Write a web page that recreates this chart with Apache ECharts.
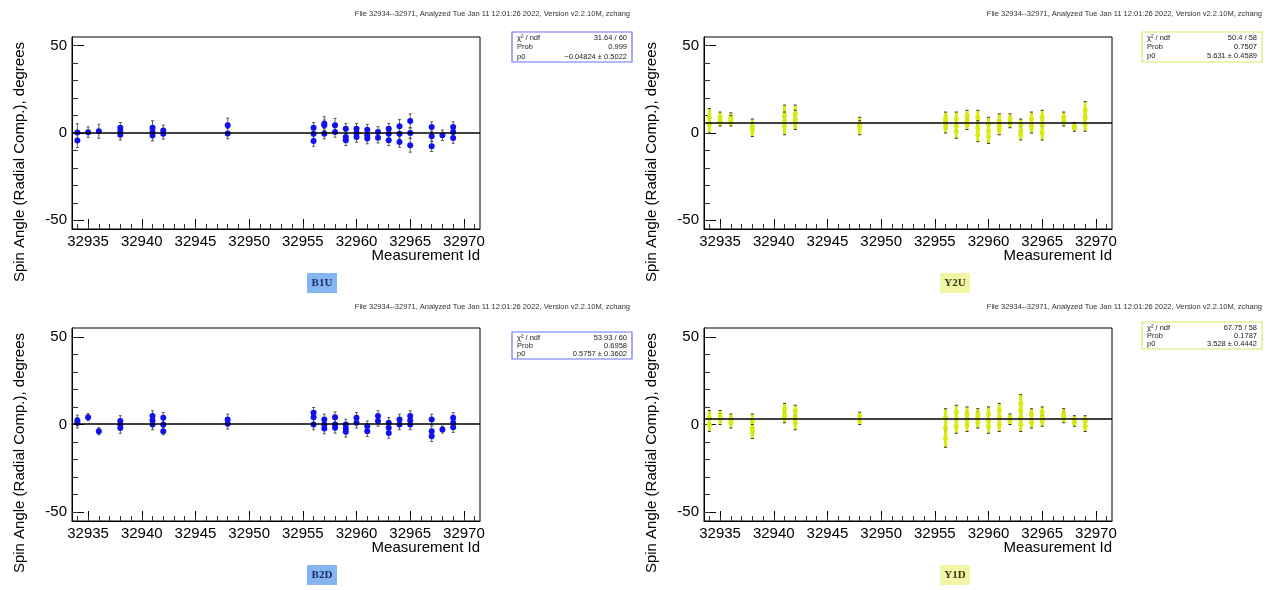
<!DOCTYPE html>
<html><head><meta charset="utf-8">
<script src="https://cdn.jsdelivr.net/npm/echarts@6/dist/echarts.min.js"></script>
<style>html,body{margin:0;padding:0;background:#fff}#c{width:1269px;height:590px}</style>
</head><body><div id="c"></div>
<script>
// ---------- data ----------
const xTickLabels = [32935, 32940, 32945, 32950, 32955, 32960, 32965, 32970];
const yTickLabels = [-50, 0, 50];
const panelNames = ['B1U', 'Y2U', 'B2D', 'Y1D'];

const b1uRun = [32934,32934,32935,32936,32938,32938,32938,32941,32941,32941,32942,32942,32948,32948,
  32956,32956,32956,32957,32957,32957,32958,32958,32959,32959,32959,32960,32960,32960,32961,32961,32961,
  32962,32962,32963,32963,32963,32964,32964,32964,32965,32965,32965,32967,32967,32967,32968,32969,32969,32969];
const b1uVal = [-4.3,0.3,0.5,1.0,3.0,1.0,-1.0,3.0,0.5,-1.5,1.5,-0.5,4.5,-0.3,
  3.0,-0.4,-4.6,5.3,4.4,-0.4,4.4,0.6,2.5,-2.3,-4.2,2.5,0,-2.3,1.9,-1.3,-3.2,
  0.6,-2.7,2.5,-0.4,-4.2,3.8,-0.4,-5.1,6.9,0,-7.0,3.4,-1.9,-7.6,-1.3,3.4,0.6,-2.9];
const b1uErr = [4,5,3,4,3,3,3,4,3,3,3,3,4,3,
  3,3,3,4,3,3,4,3,3,3,3,3,3,3,3,3,3,
  3,3,3,3,3,4,3,3,4,3,4,3,3,3,3,3,3,3];

const y2uRun = [32934,32934,32935,32935,32936,32936,32938,32938,32941,32941,32941,32942,32942,32942,32948,32948,
  32956,32956,32956,32956,32957,32957,32957,32958,32958,32958,32959,32959,32959,32960,32960,32960,
  32961,32961,32961,32962,32962,32963,32963,32963,32964,32964,32964,32965,32965,32965,32967,32967,32968,32968,32969,32969,32969];
const y2uVal = [9,5,9,7,8.5,7,4,2,10,7,4,11,8,6,5,3,
  9,7,5,3,8,4,1,10,7,5,9,3,-1,5,1,-2,
  7,4,2,8,6,5,1,-1,8,5,3,9,5,0,9,7,4,3,13,9,5];
const y2uErr = [5,5,3,3,3,3,4,4,6,5,5,5,5,4,4,4,
  3,3,3,3,4,4,4,3,3,3,4,4,4,4,4,4,
  4,3,3,3,3,3,3,3,4,3,3,4,4,4,3,3,2,2,5,4,4];

const b2dRun = [32934,32934,32935,32936,32938,32938,32938,32941,32941,32941,32942,32942,32942,32948,32948,
  32956,32956,32956,32957,32957,32957,32958,32958,32958,32959,32959,32959,32960,32960,32961,32961,
  32962,32962,32963,32963,32963,32964,32964,32965,32965,32965,32967,32967,32967,32968,32969,32969,32969];
const b2dVal = [2.3,1.0,4.2,-3.8,2.0,0,-2.0,4.8,2.3,0,3.8,0,-3.8,2.9,0.4,
  6.7,4.2,0,2.9,0,-2.3,4.2,0,-1.9,0,-2.3,-4.2,3.8,1.0,-1.0,-3.8,
  4.8,2.0,1.0,-1.9,-4.8,2.9,0,4.8,2.3,0,2.9,-3.8,-6.7,-2.9,3.8,1.0,-1.5];
const b2dErr = [3,3,2,2,3,3,3,3,3,3,3,3,2,3,3,
  3,3,3,3,3,3,3,3,3,3,3,3,3,3,3,3,
  3,3,3,3,3,3,3,3,3,3,3,3,3,2,3,3,3];

const y1dRun = [32934,32934,32935,32935,32936,32936,32938,32938,32938,32941,32941,32941,32942,32942,32942,32948,32948,
  32956,32956,32956,32957,32957,32957,32958,32958,32958,32959,32959,32959,32960,32960,32960,
  32961,32961,32961,32962,32962,32963,32963,32963,32963,32964,32964,32964,32965,32965,32965,32967,32967,32968,32968,32969,32969];
const y1dVal = [4,0,5,3,3,1,2,-2,-4,9,6,4,8,4,1,5,2,
  4,-2,-8,7,3,-1,6,3,0,6,4,1,6,2,-1,
  8,4,0,4,2,12,8,4,0,6,3,1,7,4,2,6,4,3,1,2,-1];
const y1dErr = [4,4,3,3,3,3,4,4,4,3,3,3,3,4,4,2,2,
  5,5,5,4,4,4,4,4,4,3,3,3,4,4,4,
  4,4,4,2,2,5,4,4,4,3,3,3,3,3,3,3,3,2,2,3,3];

const fitP0 = [-0.04824, 5.631, 0.5757, 3.528];
const statChi = ['31.64 / 60', '50.4 / 58', '53.93 / 60', '67.75 / 58'];
const statProb = ['0.999', '0.7507', '0.6958', '0.1787'];
const statP0 = ['\u22120.04824 \u00b1 0.5022', '5.631 \u00b1 0.4589', '0.5757 \u00b1 0.3602', '3.528 \u00b1 0.4442'];
const headerText = 'File 32934--32971, Analyzed Tue Jan 11 12:01:26 2022, Version v2.2.10M, zchang';

// ---------- layout ----------
const runs = [b1uRun, y2uRun, b2dRun, y1dRun];
const vals = [b1uVal, y2uVal, b2dVal, y1dVal];
const errs = [b1uErr, y2uErr, b2dErr, y1dErr];
const grids = [
  {left: 72, top: 37, width: 408, height: 192},
  {left: 704, top: 37, width: 408, height: 192},
  {left: 72, top: 328, width: 408, height: 193},
  {left: 704, top: 328, width: 408, height: 193}
];
const FONT = 'Liberation Sans, Arial, Helvetica, sans-serif';
const isB = [true, false, true, false];
const markerColor = ['#1010f0', '#d8ea10', '#1010f0', '#d8ea10'];
const barColor = ['#666', '#d8ea10', '#666', '#d8ea10'];
const barWidth = [1, 3, 1, 3];
const boxBorder = ['#6f6ff5', '#dde86a', '#6f6ff5', '#dde86a'];
const boxPos = [[512, 32, 30, 9.5], [1142, 32, 30, 9], [512, 332, 27, 8], [1142, 322, 27, 8]];

const minorX = [];
for (let v = 32934; v <= 32971; v++) minorX.push(v);
const minorY = [];
for (let v = -50; v <= 50; v += 10) minorY.push(v);

const option = {
  animation: false,
  backgroundColor: '#fff',
  grid: grids.map(g => Object.assign({show: true, borderColor: '#000', borderWidth: 1, backgroundColor: 'transparent'}, g)),
  xAxis: [], yAxis: [], series: [], graphic: []
};

for (let i = 0; i < 4; i++) {
  const common = {gridIndex: i, type: 'value', min: 32933.5, max: 32971.5, splitLine: {show: false}};
  option.xAxis.push(Object.assign({}, common, {
    position: 'bottom',
    axisLine: {show: true, onZero: false, lineStyle: {color: '#000', width: 1}},
    axisTick: {show: true, inside: true, length: 10, customValues: xTickLabels, lineStyle: {color: '#000'}},
    axisLabel: {show: true, customValues: xTickLabels, formatter: v => String(v), color: '#000', fontSize: 15, fontFamily: FONT, margin: 5}
  }));
  option.xAxis.push(Object.assign({}, common, {
    position: 'bottom',
    axisLine: {show: false, onZero: false},
    axisTick: {show: true, inside: true, length: 5, customValues: minorX, lineStyle: {color: '#333'}},
    axisLabel: {show: false}
  }));
  const ycommon = {gridIndex: i, type: 'value', min: -55, max: 55, splitLine: {show: false}};
  option.yAxis.push(Object.assign({}, ycommon, {
    position: 'left',
    axisLine: {show: true, onZero: false, lineStyle: {color: '#000', width: 1}},
    axisTick: {show: true, inside: true, length: 12, customValues: yTickLabels, lineStyle: {color: '#000'}},
    axisLabel: {show: true, customValues: yTickLabels, formatter: v => String(v), color: '#000', fontSize: 15, fontFamily: FONT, margin: 5}
  }));
  option.yAxis.push(Object.assign({}, ycommon, {
    position: 'left',
    axisLine: {show: false, onZero: false},
    axisTick: {show: true, inside: true, length: 6, customValues: minorY, lineStyle: {color: '#333'}},
    axisLabel: {show: false}
  }));

  const pts = runs[i].map((r, k) => [r, vals[i][k], errs[i][k]]);
  const bc = barColor[i], bw = barWidth[i], capColor = isB[i] ? '#555' : '#333';
  option.series.push({
    type: 'custom', xAxisIndex: 2 * i, yAxisIndex: 2 * i, data: pts, z: 2,
    encode: {x: 0, y: 1},
    renderItem: function (params, api) {
      const x = api.value(0), y = api.value(1), e = api.value(2);
      const a = api.coord([x, y + e]), b = api.coord([x, y - e]);
      return {type: 'group', children: [
        {type: 'line', shape: {x1: a[0], y1: a[1], x2: b[0], y2: b[1]}, style: {stroke: bc, lineWidth: bw}},
        {type: 'line', shape: {x1: a[0] - 1.5, y1: a[1], x2: a[0] + 1.5, y2: a[1]}, style: {stroke: capColor, lineWidth: 1}},
        {type: 'line', shape: {x1: b[0] - 1.5, y1: b[1], x2: b[0] + 1.5, y2: b[1]}, style: {stroke: capColor, lineWidth: 1}}
      ]};
    }
  });
  option.series.push({
    type: 'scatter', xAxisIndex: 2 * i, yAxisIndex: 2 * i, z: 3,
    data: pts.map(p => [p[0], p[1]]), symbol: 'circle', symbolSize: isB[i] ? 6 : 5,
    itemStyle: {color: markerColor[i], opacity: 1},
    markLine: {silent: true, symbol: 'none', label: {show: false}, z: 4,
      lineStyle: {color: '#000', width: 1.5, type: 'solid'},
      data: [{yAxis: fitP0[i]}]}
  });

  const g = grids[i];
  const right = g.left + g.width;
  const bottom = g.top + g.height;
  // y axis title
  option.graphic.push({type: 'text', x: g.left - 52, y: g.top + 5, rotation: Math.PI / 2,
    style: {text: 'Spin Angle (Radial Comp.), degrees', font: '15px ' + FONT, fill: '#000', align: 'right', verticalAlign: 'middle'}});
  // x axis title
  option.graphic.push({type: 'text', x: right, y: bottom + 27,
    style: {text: 'Measurement Id', font: '15px ' + FONT, fill: '#000', align: 'right', verticalAlign: 'middle'}});
  // header
  option.graphic.push({type: 'text', x: (i % 2 === 0 ? 630 : 1262), y: (i < 2 ? 14 : 307),
    style: {text: headerText, font: '7.5px ' + FONT, fill: '#333', align: 'right', verticalAlign: 'middle'}});
  // stat box
  const bx = boxPos[i][0], by = boxPos[i][1], bh = boxPos[i][2], lh = boxPos[i][3], bw2 = 120;
  option.graphic.push({type: 'rect', shape: {x: bx, y: by, width: bw2, height: bh},
    style: {fill: '#fff', stroke: boxBorder[i], lineWidth: 1.2}});
  const rows = [['\u03c7\u00b2 / ndf', statChi[i]], ['Prob', statProb[i]], ['p0', statP0[i]]];
  rows.forEach((r, k) => {
    const ty = by + 5.5 + k * lh;
    option.graphic.push({type: 'text', x: bx + 5, y: ty,
      style: {text: r[0], font: '7.5px ' + FONT, fill: '#222', align: 'left', verticalAlign: 'middle'}});
    option.graphic.push({type: 'text', x: bx + bw2 - 5, y: ty,
      style: {text: r[1], font: '7.5px ' + FONT, fill: '#222', align: 'right', verticalAlign: 'middle'}});
  });
  // panel label
  const lx = (i % 2 === 0 ? 322 : 955), ly = (i < 2 ? 283 : 575);
  option.graphic.push({type: 'rect', shape: {x: lx - 15, y: ly - 10, width: 30, height: 20},
    style: {fill: isB[i] ? '#86b6f2' : '#f1f5a6', stroke: null}});
  option.graphic.push({type: 'text', x: lx, y: ly,
    style: {text: panelNames[i], font: 'bold 11px Liberation Serif, DejaVu Serif, serif', fill: isB[i] ? '#1a2a6a' : '#3a3a10', align: 'center', verticalAlign: 'middle'}});
}

const chart = echarts.init(document.getElementById('c'), null, {renderer: 'canvas'});
chart.setOption(option);
</script></body></html>
